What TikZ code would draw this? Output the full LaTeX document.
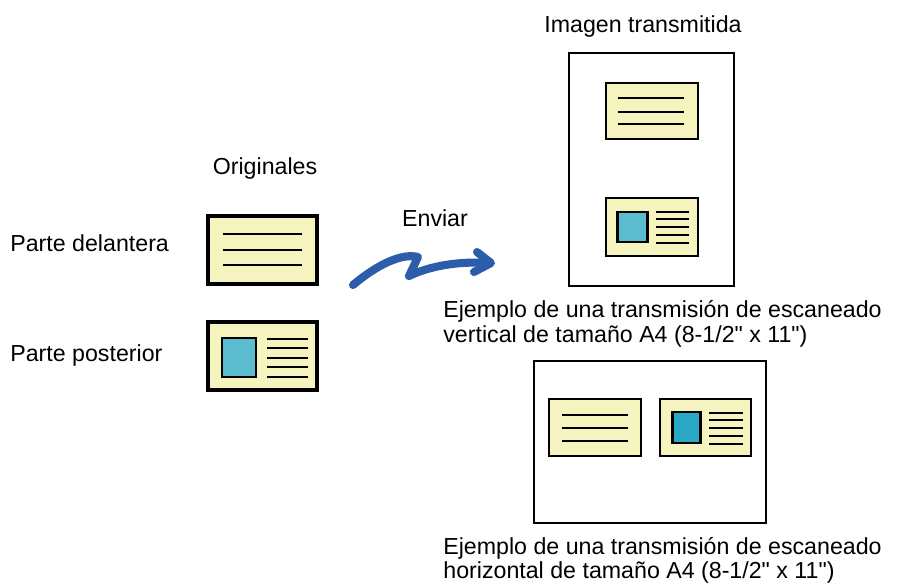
\documentclass[tikz,border=0pt]{standalone}
\usepackage{fontspec}
\setmainfont{Liberation Sans}
\definecolor{cardyellow}{HTML}{F5F3BE}
\definecolor{photoblue}{HTML}{5BBCD0}
\definecolor{photobluedark}{HTML}{2AA9C6}
\definecolor{sendblue}{HTML}{2B5DAA}
\tikzset{
  card/.style={draw=black,fill=cardyellow,line width=1.8pt},
  photo/.style={draw=black,fill=photoblue,line width=1.7pt},
  textrow/.style={line width=1.6pt},
  sheet/.style={draw=black,line width=1.3pt},
  label/.style={font=\fontsize{13.2}{14.5}\selectfont,inner sep=0pt},
}
\begin{document}
\begin{tikzpicture}[x=0.02cm,y=-0.02cm,line cap=butt,line join=miter]
  \useasboundingbox (0,0) rectangle (899,584);
  % originals
  \node[label,anchor=base] (orig) at (265,175) {Originales};
  \node[label,anchor=base west] (front) at (10,252) {Parte delantera};
  \node[label,anchor=base west] (back) at (10,361) {Parte posterior};
  \draw[card] (208,216) rectangle (317,284);
  \foreach \y in {234,250,265}
    \draw[textrow] (223,\y) -- (302,\y);
  \draw[card] (208,322) rectangle (317,390);
  \draw[photo] (222,338) rectangle (256,377);
  \foreach \y in {339,348,358,367,377}
    \draw[textrow] (267,\y) -- (308,\y);
  % send arrow
  \node[label,anchor=base] (send) at (435,227) {Enviar};
  \draw[sendblue,line width=4.6pt,line cap=round,line join=round]
    (353,285) .. controls (378,264) and (402,253) .. (418,257) -- (409,276)
    .. controls (430,266) and (458,261) .. (489,263);
  \draw[sendblue,line width=4.6pt,line cap=round,line join=round]
    (477,252) -- (491,263) -- (474,272);
  % portrait result
  \node[label,anchor=base] (result) at (643,33) {Imagen transmitida};
  \draw[sheet] (569,53) rectangle (734,286);
  \draw[card,line width=1.6pt] (606,83) rectangle (698,139);
  \foreach \y in {98,112,124}
    \draw[textrow] (618,\y) -- (684,\y);
  \draw[card,line width=1.6pt] (606,198) rectangle (698,256);
  \draw[photo] (617,212) rectangle (647,242);
  \foreach \y in {212,219,227,235,243}
    \draw[textrow,line width=1.3pt] (656,\y) -- (689,\y);
  \node[label,anchor=base west] (capv) at (443,317) {Ejemplo de una transmisión de escaneado};
  \node[label,anchor=base west] (capvb) at (443,342) {vertical de tamaño A4 (8-1/2\textquotedbl{} x 11\textquotedbl)};
  % landscape result
  \draw[sheet] (534,361) rectangle (766,523);
  \draw[card,line width=1.6pt] (549,399) rectangle (641,456);
  \foreach \y in {415,428,441}
    \draw[textrow] (562,\y) -- (628,\y);
  \draw[card,line width=1.6pt] (660,399) rectangle (751,456);
  \draw[photo,fill=photobluedark] (672,412) rectangle (700,443);
  \foreach \y in {413,420,428,436,444}
    \draw[textrow,line width=1.3pt] (709,\y) -- (743,\y);
  \node[label,anchor=base west] (caph) at (443,554) {Ejemplo de una transmisión de escaneado};
  \node[label,anchor=base west] (caphb) at (443,578) {horizontal de tamaño A4 (8-1/2\textquotedbl{} x 11\textquotedbl)};
\end{tikzpicture}
\end{document}
